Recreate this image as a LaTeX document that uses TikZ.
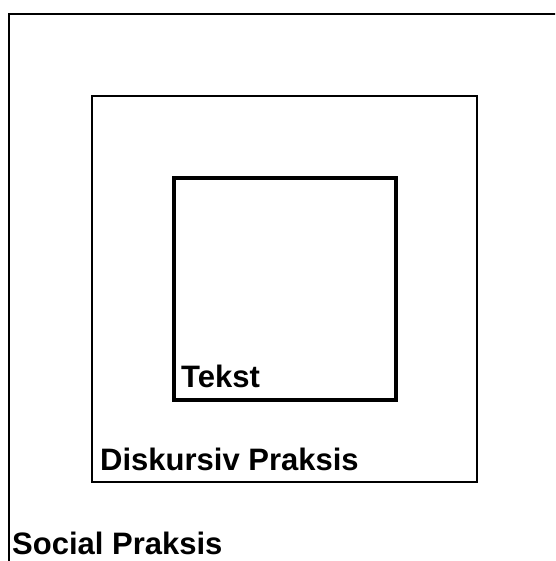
\documentclass[tikz,border=0pt]{standalone}
\usepackage{fontspec}
\setmainfont{Liberation Sans}
\begin{document}
\begin{tikzpicture}[x=1pt,y=-1pt,
  lbl/.style={inner sep=0pt, anchor=base west, font=\fontsize{31}{37}\selectfont\bfseries},
  frame/.style={draw=black}]
\useasboundingbox (0,0) rectangle (555,561);
\clip (0,0) rectangle (555,561);
\draw[frame, line width=2.8] (9,14) rectangle (620,620);
\draw[frame, line width=2] (92,96) rectangle (477,482);
\draw[frame, line width=3.2] (174,178) rectangle (396,400);
\node[lbl] (tekst) at (181,387) {Tekst};
\node[lbl] (diskursiv) at (100,470) {Diskursiv Praksis};
\node[lbl] (social) at (12,554) {Social Praksis};
\end{tikzpicture}
\end{document}
